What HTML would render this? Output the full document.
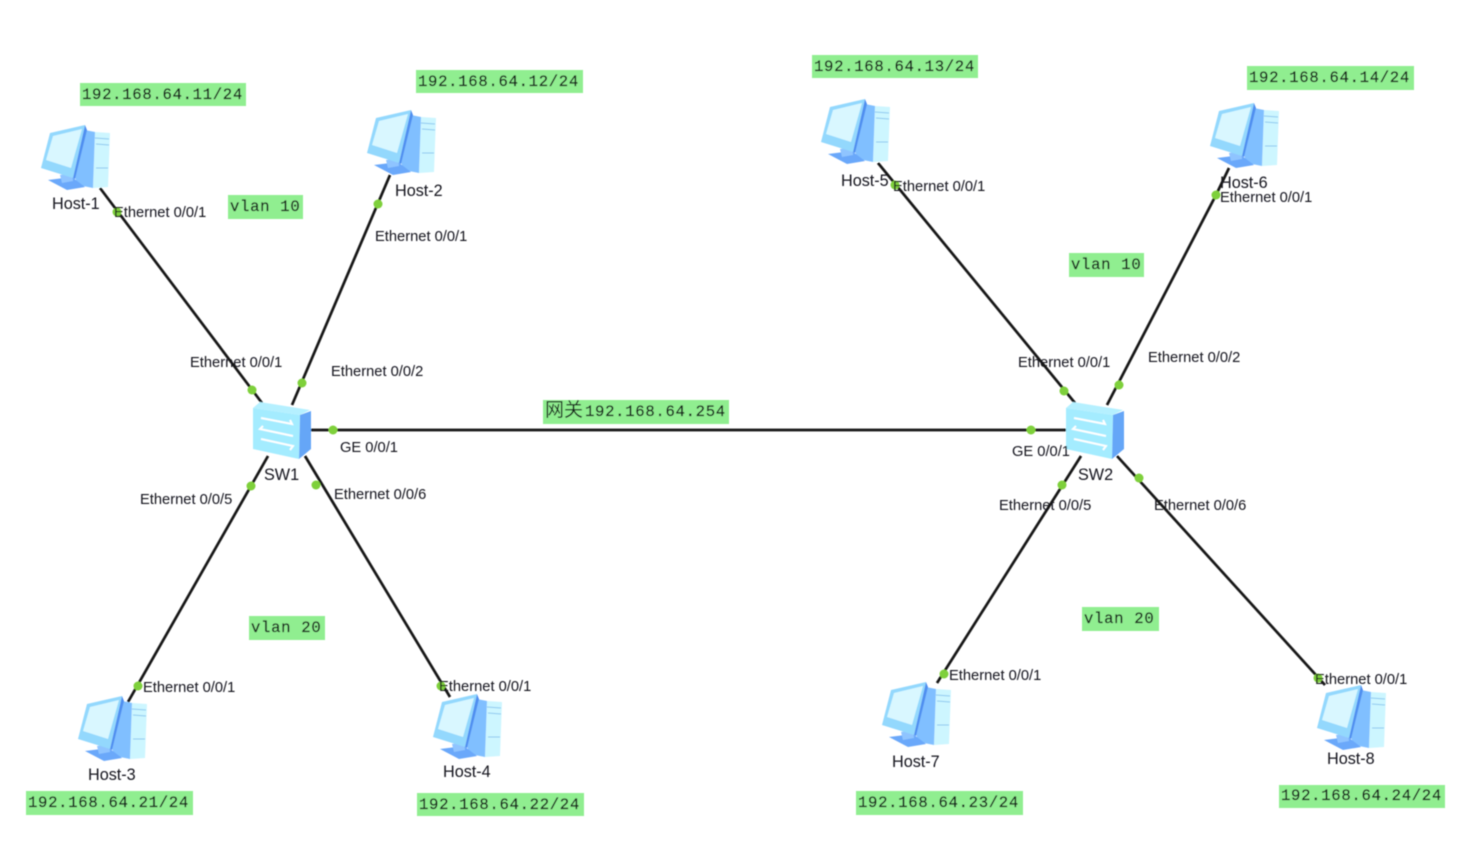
<!DOCTYPE html>
<html><head><meta charset="utf-8"><style>
html,body{margin:0;padding:0;background:#fff;overflow:hidden}
svg{display:block}
.e{font:14.7px "Liberation Sans",sans-serif;fill:#15151f}
.h{font:16.2px "Liberation Sans",sans-serif;fill:#15151f}
.m{font:15.6px "Liberation Mono",monospace;letter-spacing:.7px;fill:#15201a;stroke:#15201a;stroke-width:.25}
.z{font:19px "Liberation Sans","Noto Sans CJK SC",sans-serif;fill:#15201a}
.b{fill:#90ee90}
.l{stroke:#141414;stroke-width:2.7;fill:none}
.d{fill:#7ed03a}
</style></head><body>
<svg width="1479" height="851" viewBox="0 0 1479 851" xmlns="http://www.w3.org/2000/svg">
<defs>
<filter id="s" x="-5%" y="-5%" width="110%" height="110%"><feGaussianBlur stdDeviation="0.45"/></filter>
<g id="h">
<path d="M55 7 L70 8 L68 62 L53 63 Z" fill="#cdf6ff"/>
<path d="M45 5 L55 7 L53 63 L38 60 L34 50 Z" fill="#80bfff"/>
<path d="M8 55 L32 52 L45 62 L27 65 Z" fill="#6aa8fa"/>
<path d="M20 50 L32 48 L33 56 L22 58 Z" fill="#8fc4ff"/>
<path d="M10 8 L45 0 L33 53 L1 43 Z" fill="#93d8fd"/>
<path d="M45 0 L47 5 L35 54 L33 53 Z" fill="#4f8ff0"/>
<path d="M13 11 L42 4 L31 43 L6 35 Z" fill="#d9f7ff"/>
<path d="M55 13 L69 14 M56 19 L69 20 M56 43 L68 43" stroke="#8cc8f0" stroke-width="1" fill="none"/>
</g>
<g id="w">
<path d="M1 6 L8 0 L58 8 L48 13 Z" fill="#b5f0ff"/>
<path d="M1 6 L48 13 L47 57 L1 47 Z" fill="#a4ecff"/>
<path d="M48 13 L59 9 L59 47 L47 57 Z" fill="#65a6f7"/>
<path d="M9 16 L40 22 L38 18 M41 34 L8 27 L11 24 M9 37 L41 44 L38 48" stroke="#fff" stroke-width="2" fill="none"/>
</g>
</defs>
<rect width="1479" height="851" fill="#fff"/>
<g filter="url(#s)">
<path class="l" d="M100 188 L262 403 M390 175 L292 405 M128 702 L268 456 M450 697 L305 456 M310 430 L1066 430 M878 163 L1075 403 M1216 195 L1107 405 M937 683 L1081 456 M1325 685 L1117 456 M1229 168 L1216 195"/>
<use href="#h" x="40" y="125"/><use href="#h" x="366" y="110"/><use href="#h" x="77" y="696"/><use href="#h" x="432" y="694"/>
<use href="#h" x="820" y="99"/><use href="#h" x="1209" y="103"/><use href="#h" x="881" y="682"/><use href="#h" x="1316" y="685"/>
<use href="#w" x="252" y="402"/><use href="#w" x="1065" y="402"/>
<g class="d">
<circle cx="117" cy="212" r="4.5"/><circle cx="252" cy="390" r="4.5"/><circle cx="378" cy="204" r="4.5"/><circle cx="302" cy="383" r="4.5"/>
<circle cx="333" cy="430" r="4.5"/><circle cx="251" cy="486" r="4.5"/><circle cx="316" cy="485" r="4.5"/><circle cx="138" cy="686" r="4.5"/><circle cx="441" cy="686" r="4.5"/>
<circle cx="1031" cy="430" r="4.5"/><circle cx="1064" cy="391" r="4.5"/><circle cx="1119" cy="385" r="4.5"/><circle cx="1062" cy="485" r="4.5"/><circle cx="1139" cy="478" r="4.5"/>
<circle cx="895" cy="185" r="4.5"/><circle cx="1216" cy="195" r="4.5"/><circle cx="944" cy="674" r="4.5"/><circle cx="1318" cy="678" r="4.5"/>
</g>
<g class="b">
<rect x="80" y="83" width="166" height="23"/><rect x="416" y="70" width="167" height="23"/><rect x="812" y="55" width="166" height="23"/><rect x="1247" y="66" width="167" height="24"/>
<rect x="26" y="791" width="167" height="24"/><rect x="417" y="793" width="167" height="23"/><rect x="856" y="791" width="167" height="24"/><rect x="1279" y="785" width="166" height="23"/>
<rect x="228" y="195" width="75" height="24"/><rect x="1069" y="253" width="75" height="24"/><rect x="249" y="616" width="76" height="24"/><rect x="1082" y="607" width="77" height="24"/>
<rect x="543" y="400" width="186" height="24"/>
</g>
<g class="m">
<text x="82" y="99">192.168.64.11/24</text><text x="418" y="86">192.168.64.12/24</text><text x="814" y="71">192.168.64.13/24</text><text x="1249" y="82">192.168.64.14/24</text>
<text x="28" y="807">192.168.64.21/24</text><text x="419" y="809">192.168.64.22/24</text><text x="858" y="807">192.168.64.23/24</text><text x="1281" y="800">192.168.64.24/24</text>
<text x="230" y="211">vlan 10</text><text x="1071" y="269">vlan 10</text><text x="251" y="632">vlan 20</text><text x="1084" y="623">vlan 20</text>
<text x="585" y="416">192.168.64.254</text>
</g>
<text class="z" x="545" y="416">网关</text>
<g class="h">
<text x="52" y="209">Host-1</text><text x="395" y="196">Host-2</text><text x="88" y="780">Host-3</text><text x="443" y="777">Host-4</text>
<text x="841" y="186">Host-5</text><text x="1220" y="188">Host-6</text><text x="892" y="767">Host-7</text><text x="1327" y="764">Host-8</text>
<text x="264" y="480">SW1</text><text x="1078" y="480">SW2</text>
</g>
<g class="e">
<text x="114" y="217">Ethernet 0/0/1</text><text x="190" y="367">Ethernet 0/0/1</text><text x="375" y="241">Ethernet 0/0/1</text><text x="331" y="376">Ethernet 0/0/2</text>
<text x="340" y="452">GE 0/0/1</text><text x="140" y="504">Ethernet 0/0/5</text><text x="334" y="499">Ethernet 0/0/6</text><text x="143" y="692">Ethernet 0/0/1</text><text x="439" y="691">Ethernet 0/0/1</text>
<text x="893" y="191">Ethernet 0/0/1</text><text x="1220" y="202">Ethernet 0/0/1</text><text x="1018" y="367">Ethernet 0/0/1</text><text x="1148" y="362">Ethernet 0/0/2</text>
<text x="1012" y="456">GE 0/0/1</text><text x="999" y="510">Ethernet 0/0/5</text><text x="1154" y="510">Ethernet 0/0/6</text><text x="949" y="680">Ethernet 0/0/1</text><text x="1315" y="684">Ethernet 0/0/1</text>
</g>
</g>
</svg>
</body></html>
